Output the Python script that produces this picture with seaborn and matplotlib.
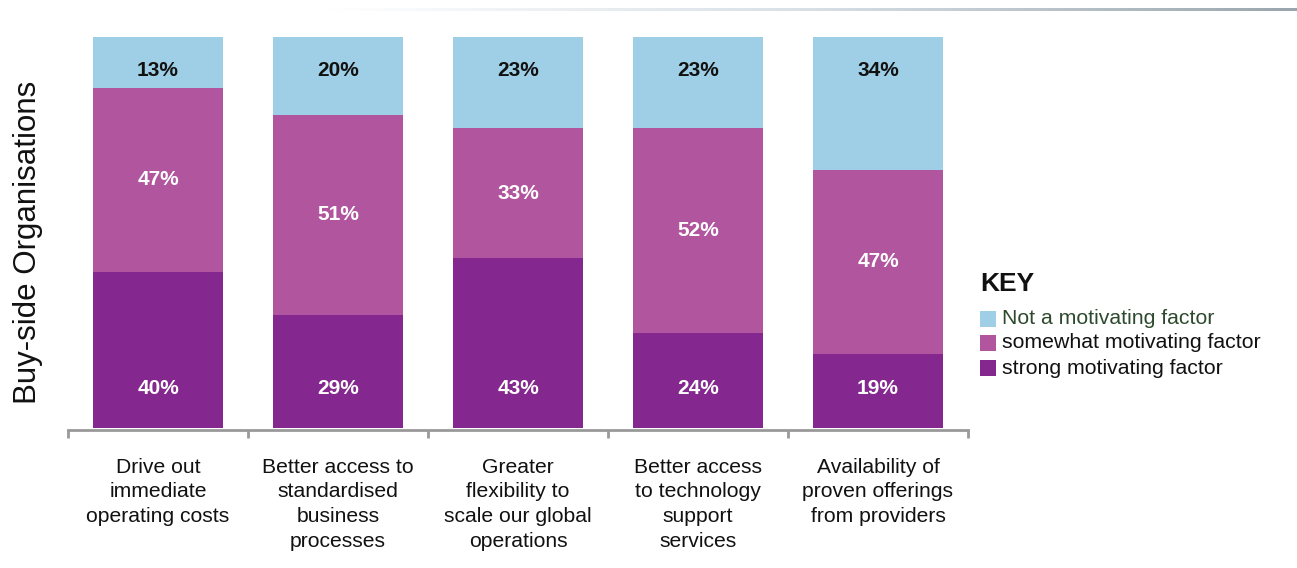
import numpy as np
import pandas as pd
import matplotlib
matplotlib.use("Agg")
import matplotlib.pyplot as plt
import seaborn as sns
from matplotlib.patches import Rectangle
from matplotlib.colors import LinearSegmentedColormap

categories = [
    "Drive out\nimmediate\noperating costs",
    "Better access to\nstandardised\nbusiness\nprocesses",
    "Greater\nflexibility to\nscale our global\noperations",
    "Better access\nto technology\nsupport\nservices",
    "Availability of\nproven offerings\nfrom providers",
]
strong = [40, 29, 43, 24, 19]
somewhat = [47, 51, 33, 52, 47]
not_factor = [13, 20, 23, 23, 34]
series_names = ["Not a motivating factor", "somewhat motivating factor", "strong motivating factor"]

c_not = "#9fcfe6"
c_some = "#b0559e"
c_strong = "#84288f"

sns.set_style("white")
plt.rcParams['font.family'] = ['Liberation Sans', 'DejaVu Sans']

fig = plt.figure(figsize=(12.97, 5.68), dpi=100)
ax = fig.add_axes([68/1297, (568-430)/568, 900/1297, (430-37)/568])

tot = np.array(strong) + np.array(somewhat) + np.array(not_factor)
s = np.array(strong) / tot * 100
m = np.array(somewhat) / tot * 100
df = pd.DataFrame({"cat": categories, "total": np.full(len(categories), 100.0),
                   "sm": s + m, "s": s})

for col, c in [("total", c_not), ("sm", c_some), ("s", c_strong)]:
    sns.barplot(data=df, x="cat", y=col, color=c, width=0.72, ax=ax, saturation=1,
                order=categories, linewidth=0, edgecolor="none")

for i in range(len(categories)):
    ax.text(i, 91.5, f"{not_factor[i]}%", ha="center", va="center", fontsize=15, fontweight="bold", color="#111111")
    ax.text(i, s[i] + m[i] / 2, f"{somewhat[i]}%", ha="center", va="center", fontsize=15, fontweight="bold", color="white")
    ax.text(i, 10, f"{strong[i]}%", ha="center", va="center", fontsize=15, fontweight="bold", color="white")

ax.set_xlim(-0.5, len(categories) - 0.5)
ax.set_ylim(-0.5, 100)
for sp in ["top", "right", "left"]:
    ax.spines[sp].set_visible(False)
ax.spines["bottom"].set_color("#999999")
ax.spines["bottom"].set_linewidth(2)
ax.set_yticks([])
ax.set_xticks(range(len(categories)))
ax.set_xticks(np.arange(-0.5, len(categories) + 0.5, 1), minor=True)
ax.set_xticklabels(categories, fontsize=15.2, linespacing=1.38, color="#111111")
ax.tick_params(axis="x", which="major", bottom=False, length=0, pad=20)
ax.tick_params(axis="x", which="minor", bottom=True, length=6, width=2, color="#999999", direction="out")
ax.set_xlabel("")
ax.set_ylabel("Buy-side Organisations", fontsize=22.5, color="#111111")
ax.yaxis.set_label_coords(-0.028, 0.478)

# legend (KEY)
fig.text(980/1297, 1 - 284/568, "KEY", fontsize=19, fontweight="bold", va="center", ha="left", color="#111111")
leg_cols = [c_not, c_some, c_strong]
leg_text_cols = ["#2e4a2e", "#111111", "#111111"]
ys = [319, 343, 368]
for name, col, tc, y in zip(series_names, leg_cols, leg_text_cols, ys):
    fig.patches.append(Rectangle((980/1297, 1 - (y + 8)/568), 16/1297, 16/568,
                                 transform=fig.transFigure, facecolor=col, edgecolor="none"))
    fig.text(1002/1297, 1 - y/568, name, fontsize=15.3, va="center", ha="left", color=tc)

# decorative top gradient line
gax = fig.add_axes([320/1297, 1 - 11/568, 977/1297, 3/568])
grad = np.linspace(0, 1, 256).reshape(1, -1)
cmap = LinearSegmentedColormap.from_list("g", ["#ffffff", "#d8e0e6", "#9aa5ad"])
gax.imshow(grad, aspect="auto", cmap=cmap)
gax.axis("off")

fig.savefig("out.png", dpi=100)
